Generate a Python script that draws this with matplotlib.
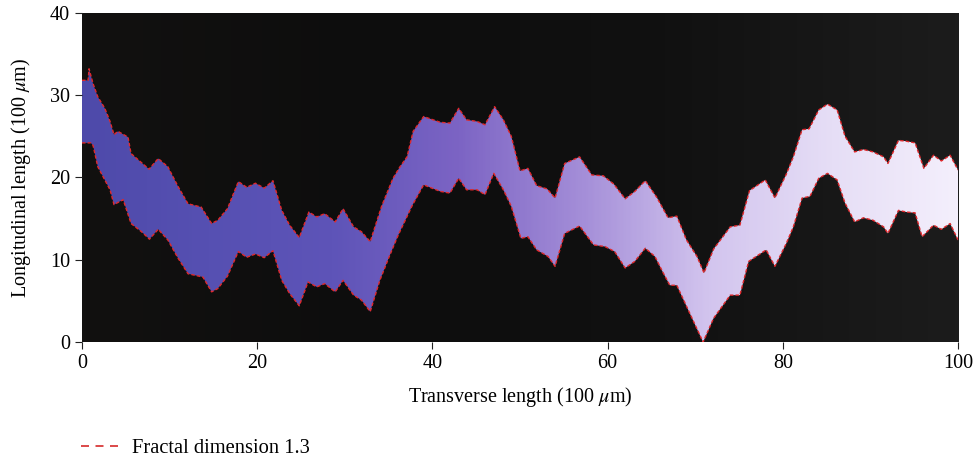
import matplotlib.pyplot as plt
import numpy as np
from matplotlib.colors import LinearSegmentedColormap
from matplotlib.lines import Line2D
from matplotlib.patches import Polygon

plt.rcParams['font.family'] = ['Liberation Serif', 'DejaVu Serif']
plt.rcParams['mathtext.fontset'] = 'stix'

# crack boundaries (transverse x, longitudinal y), units of 100 um
upper_x = [0, 0.7, 0.8, 1.26, 1.8, 2.6, 3.2, 3.65, 4.1, 5.25, 5.6, 7.65, 8.7, 9.8,
           10.96, 12.1, 13.6, 14.8, 15.5, 16.6, 17.85, 18.8, 19.8, 20.8, 21.8, 22.8,
           23.7, 24.8, 25.9, 26.8, 27.7, 28.9, 29.8, 31.0, 31.9, 32.9, 34.2, 35.5,
           36.3, 37.1, 37.8, 39.0, 40.9, 42.0, 43.0, 43.9, 45.1, 46.0, 47.1, 48.1,
           49.0, 50.0, 50.9, 51.9, 53.1, 54.0, 55.1, 56.8, 58.2, 59.5, 60.7, 62.0,
           63.1, 64.3, 65.6, 66.9, 67.9, 69.0, 70.2, 71.0, 72.1, 74.0, 75.1, 76.2,
           78.0, 79.1, 80.4, 81.2, 82.2, 83.0, 84.1, 85.1, 86.2, 87.1, 88.2, 89.2,
           90.3, 91.5, 92.0, 93.2, 94.1, 95.1, 96.1, 97.2, 98.1, 99.1, 100]
upper_y = [31.8, 31.8, 33.2, 31.4, 29.8, 28.4, 26.8, 25.2, 25.6, 24.9, 22.9, 21.0, 22.3, 21.3,
           18.9, 16.8, 16.4, 14.4, 14.8, 16.2, 19.5, 18.8, 19.3, 18.7, 19.6, 16.0,
           14.2, 12.7, 15.8, 15.2, 15.6, 14.6, 16.2, 14.0, 13.4, 12.2, 16.5, 19.9,
           21.3, 22.5, 25.6, 27.4, 26.7, 26.6, 28.4, 27.0, 26.8, 26.4, 28.6, 27.0,
           25.0, 20.8, 21.1, 19.0, 18.6, 17.5, 21.7, 22.5, 20.3, 20.2, 19.2, 17.4,
           18.3, 19.6, 17.6, 15.1, 15.3, 12.4, 10.4, 8.4, 11.3, 14.0, 14.2, 18.4,
           19.7, 17.5, 20.4, 22.5, 25.8, 25.9, 28.2, 28.9, 28.2, 25.0, 23.1, 23.4,
           23.1, 22.5, 21.7, 24.5, 24.4, 24.2, 21.1, 22.7, 22.0, 22.7, 20.9]

lower_x = [0, 1.0, 1.26, 1.8, 2.6, 3.2, 3.65, 4.7, 5.6, 6.8, 7.7, 8.7, 9.8, 10.96,
           12.1, 13.8, 14.8, 15.5, 16.6, 17.85, 18.8, 19.8, 20.8, 21.8, 22.8, 23.7,
           24.8, 25.8, 26.8, 27.7, 28.9, 29.8, 31.0, 31.9, 32.9, 34.0, 35.0, 36.1,
           37.7, 39.0, 40.9, 42.0, 43.0, 43.9, 45.1, 46.0, 47.0, 48.1, 49.0, 50.1,
           50.9, 51.9, 53.2, 54.0, 55.1, 56.8, 58.4, 59.7, 60.8, 62.0, 63.1, 64.3,
           65.4, 66.3, 67.1, 67.9, 70.9, 72.1, 74.0, 75.1, 76.1, 78.1, 79.1, 80.4,
           81.2, 82.2, 83.1, 84.1, 85.1, 86.2, 87.1, 88.2, 89.2, 90.3, 91.5, 92.0,
           93.2, 94.1, 95.1, 95.9, 97.2, 98.1, 99.1, 100]
lower_y = [24.2, 24.2, 23.9, 21.3, 19.7, 18.5, 16.7, 17.3, 14.4, 13.4, 12.5, 13.7, 12.4, 10.2,
           8.3, 7.9, 6.1, 6.5, 8.0, 11.0, 10.3, 10.7, 10.25, 11.1, 7.5, 5.9,
           4.4, 7.3, 6.7, 7.1, 6.1, 7.5, 5.7, 5.1, 3.7, 7.5, 10.2, 13.0,
           16.6, 19.1, 18.3, 18.1, 19.9, 18.5, 18.5, 17.9, 20.5, 18.5, 16.5, 12.6,
           12.8, 11.2, 10.4, 9.2, 13.2, 14.1, 11.8, 11.6, 11.0, 9.0, 9.8, 11.4,
           10.4, 8.5, 6.9, 6.9, 0.0, 2.9, 5.7, 5.7, 9.8, 11.2, 9.2, 12.0,
           14.0, 17.5, 17.7, 19.9, 20.5, 19.7, 16.9, 14.6, 15.1, 14.8, 14.0, 13.2,
           16.0, 15.8, 15.7, 12.8, 14.2, 13.7, 14.4, 12.4]

x_ticks = [0, 20, 40, 60, 80, 100]
y_ticks = [0, 10, 20, 30, 40]

# colour of the crack from left to right
band_colors = ['#4e4aaa', '#5650b2', '#5e54b8', '#7c64c4', '#a48ed8', '#d2c4ee', '#e6def6', '#f4effc']

fig = plt.figure(figsize=(9.74, 4.61), dpi=100)
ax = fig.add_axes([0.0842, 0.258, 0.8994, 0.7142])

# dark background of the specimen image
bg = np.linspace(0, 1, 200)[None, :] * np.ones((50, 1))
bg_cmap = LinearSegmentedColormap.from_list('bg', ['#121110', '#0d0d0d', '#111111', '#1c1c1c'])
ax.imshow(bg, extent=[0, 100, 0, 40], aspect='auto', cmap=bg_cmap, zorder=0)

# crack region as polygon filled by a horizontal gradient
verts = list(zip(upper_x, upper_y)) + list(zip(lower_x[::-1], lower_y[::-1]))
poly = Polygon(verts, closed=True, facecolor='none', edgecolor='none')
ax.add_patch(poly)
grad = np.linspace(0, 1, 400)[None, :] * np.ones((10, 1))
band_cmap = LinearSegmentedColormap.from_list('band', band_colors)
im = ax.imshow(grad, extent=[0, 100, 0, 40], aspect='auto', cmap=band_cmap, zorder=1)
im.set_clip_path(poly)

ax.plot(upper_x, upper_y, '--', color='#e0282c', lw=1.0, dashes=(2.5, 1.5), zorder=2)
ax.plot(lower_x, lower_y, '--', color='#e0282c', lw=1.0, dashes=(2.5, 1.5), zorder=2)

ax.set_xlim(0, 100)
ax.set_ylim(0, 40)
ax.set_xticks(x_ticks)
ax.set_yticks(y_ticks)
ax.tick_params(labelsize=14.5, direction='out', length=5, color='#222222')
ax.set_xlabel(r'Transverse length (100 $\mu$m)', fontsize=14.5, labelpad=9)
ax.set_ylabel(r'Longitudinal length (100 $\mu$m)', fontsize=14.5, labelpad=12)
for s in ax.spines.values():
    s.set_visible(False)

handle = Line2D([], [], color='#d62a2a', lw=1.2, ls='--', dashes=(4.8, 3.9))
fig.legend(handles=[handle], labels=['Fractal dimension 1.3'], loc='center left',
           bbox_to_anchor=(0.064, 0.028), frameon=False, fontsize=14.8,
           handlelength=1.8, handletextpad=0.7)

plt.savefig('out.png', dpi=100)
